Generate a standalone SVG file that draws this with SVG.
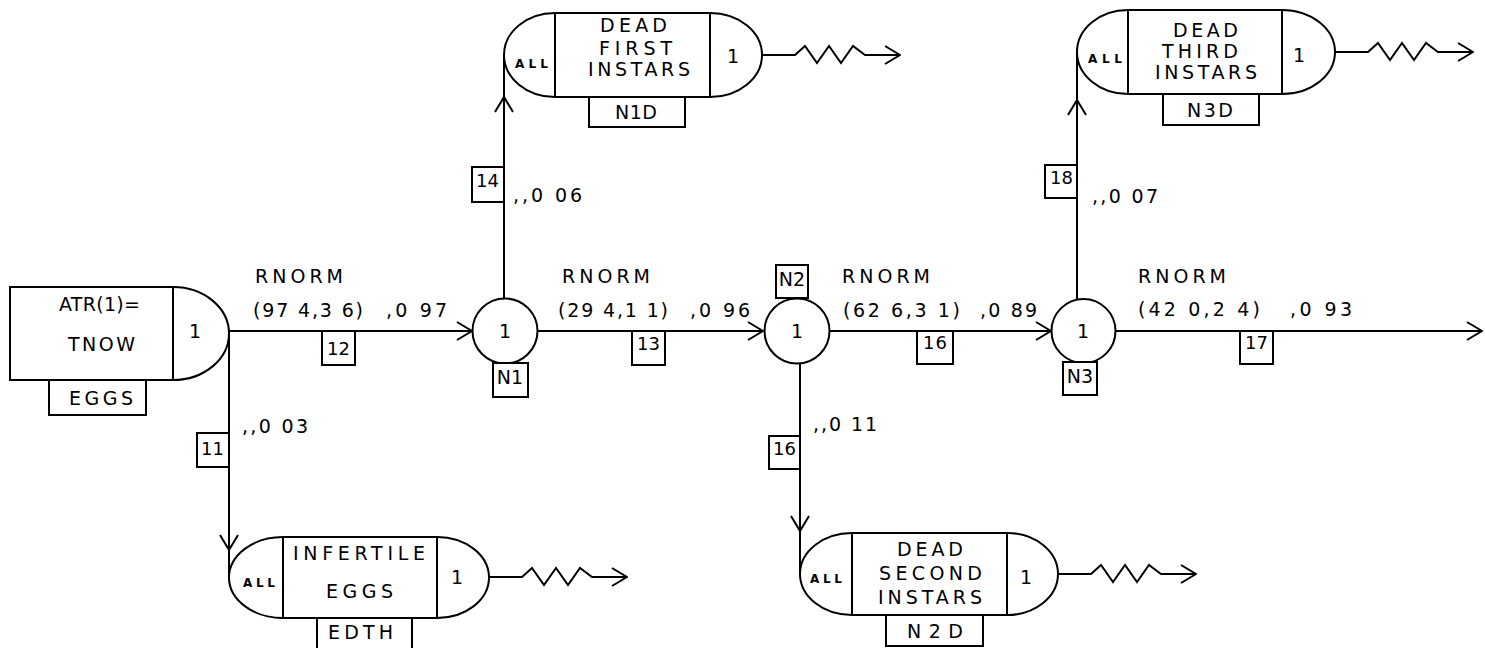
<svg xmlns="http://www.w3.org/2000/svg" width="1485" height="648" viewBox="0 0 1485 648">
<style>
.ln{stroke:#000;stroke-width:2;fill:none}
.sh{stroke:#000;stroke-width:2;fill:#fff}
.t{font-family:"DejaVu Sans","Liberation Sans",Arial,sans-serif;font-size:19px;fill:#000}
.b{font-size:18px}
.m{text-anchor:middle}
.s{font-size:12px;font-weight:bold}
</style>
<defs>
<marker id="ar" viewBox="-1 -1 17 20" refX="15" refY="9" markerWidth="17" markerHeight="20" markerUnits="userSpaceOnUse" orient="auto">
<path d="M0,0 L15,9 L0,18" fill="none" stroke="#000" stroke-width="2"/>
</marker>
</defs>
<rect width="1485" height="648" fill="#fff"/>

<g id="connectors">
<path class="ln" d="M229,331 H472" marker-end="url(#ar)"/>
<path class="ln" d="M538,331 H763" marker-end="url(#ar)"/>
<path class="ln" d="M830,331 H1051" marker-end="url(#ar)"/>
<path class="ln" d="M1116,331 H1482" marker-end="url(#ar)"/>
<path class="ln" d="M229,331 V550 V577" marker-mid="url(#ar)"/>
<path class="ln" d="M504,299 V97 V55" marker-mid="url(#ar)"/>
<path class="ln" d="M800,362 V531 V574" marker-mid="url(#ar)"/>
<path class="ln" d="M1077,299 V100 V52" marker-mid="url(#ar)"/>
<path class="ln" d="M762,55 h33 l10,-9 l12,17 l12,-17 l12,17 l12,-17 l12,9 h35" marker-end="url(#ar)"/>
<path class="ln" d="M489,577 h33 l10,-9 l12,17 l12,-17 l12,17 l12,-17 l12,9 h35" marker-end="url(#ar)"/>
<path class="ln" d="M1058,574 h33 l10,-9 l12,17 l12,-17 l12,17 l12,-17 l12,9 h35" marker-end="url(#ar)"/>
<path class="ln" d="M1335,52 h33 l10,-9 l12,17 l12,-17 l12,17 l12,-17 l12,9 h35" marker-end="url(#ar)"/>
<!-- activity number boxes -->
<path class="ln" d="M322,331 V365 H355 V331"/>
<path class="ln" d="M632,331 V365 H665 V331"/>
<path class="ln" d="M917,331 V364 H953 V331"/>
<path class="ln" d="M1240,331 V364 H1273 V331"/>
<path class="ln" d="M504,167 H472 V202 H504"/>
<path class="ln" d="M1077,165 H1045 V198 H1077"/>
<path class="ln" d="M229,433 H197 V467 H229"/>
<path class="ln" d="M800,436 H769 V469 H800"/>
<text class="t b" x="327" y="355" textLength="23">12</text>
<text class="t b" x="637" y="350" textLength="23">13</text>
<text class="t b" x="923" y="349" textLength="24">16</text>
<text class="t b" x="1245" y="349" textLength="23">17</text>
<text class="t b" x="476" y="187" textLength="23">14</text>
<text class="t b" x="1050" y="184" textLength="23">18</text>
<text class="t b" x="201" y="455" textLength="23">11</text>
<text class="t b" x="773" y="455" textLength="23">16</text>
<!-- labels -->
<text class="t" x="255" y="283" textLength="88">RNORM</text>
<text class="t" x="253" y="317" textLength="110">(97 4,3 6)</text>
<text class="t" x="386" y="317" textLength="61">,0 97</text>
<text class="t" x="562" y="283" textLength="88">RNORM</text>
<text class="t" x="558" y="317" textLength="110">(29 4,1 1)</text>
<text class="t" x="690" y="317" textLength="60">,0 96</text>
<text class="t" x="842" y="283" textLength="88">RNORM</text>
<text class="t" x="843" y="317" textLength="117">(62 6,3 1)</text>
<text class="t" x="980" y="317" textLength="57">,0 89</text>
<text class="t" x="1138" y="283" textLength="88">RNORM</text>
<text class="t" x="1138" y="316" textLength="122">(42 0,2 4)</text>
<text class="t" x="1290" y="316" textLength="62">,0 93</text>
<text class="t" x="513" y="202" textLength="69">,,0 06</text>
<text class="t" x="1092" y="203" textLength="66">,,0 07</text>
<text class="t" x="242" y="433" textLength="66">,,0 03</text>
<text class="t" x="813" y="431" textLength="64">,,0 11</text>
</g>

<g id="eggs">
<path class="sh" d="M10,287 H173 A56,46.5 0 0 1 173,380 H10 Z"/>
<line class="ln" x1="173" y1="287" x2="173" y2="380"/>
<rect class="sh" x="49" y="380" width="97" height="35"/>
<text class="t" x="59" y="311" textLength="81">ATR(1)=</text>
<text class="t" x="68" y="351" textLength="67">TNOW</text>
<text class="t m" x="195" y="338">1</text>
<text class="t" x="69" y="405" textLength="64">EGGS</text>
</g>

<g id="n1">
<circle class="sh" cx="505" cy="331" r="32.5"/>
<text class="t m" x="505" y="338">1</text>
<rect class="sh" x="493" y="363" width="35" height="34"/>
<text class="t m" x="510" y="384">N1</text>
</g>

<g id="n2">
<circle class="sh" cx="797" cy="331" r="32.5"/>
<text class="t m" x="797" y="338">1</text>
<rect class="sh" x="776" y="265" width="32" height="33"/>
<text class="t m" x="792" y="286">N2</text>
</g>

<g id="n3">
<circle class="sh" cx="1083.5" cy="331" r="32"/>
<text class="t m" x="1083" y="338">1</text>
<rect class="sh" x="1063" y="362" width="34" height="33"/>
<text class="t m" x="1080" y="383">N3</text>
</g>

<g id="edth">
<path class="sh" d="M283,537 H437 A52,40.5 0 0 1 437,618 H283 A54,40.5 0 0 1 283,537 Z"/>
<line class="ln" x1="283" y1="537" x2="283" y2="618"/>
<line class="ln" x1="437" y1="537" x2="437" y2="618"/>
<rect class="sh" x="317" y="618" width="95" height="36"/>
<text class="t s" x="243" y="587" textLength="32">ALL</text>
<text class="t" x="293" y="560" textLength="132">INFERTILE</text>
<text class="t" x="326" y="598" textLength="67">EGGS</text>
<text class="t m" x="457" y="584">1</text>
<text class="t" x="328" y="639" textLength="65">EDTH</text>
</g>

<g id="n1d">
<path class="sh" d="M555,13 H710 A52,42 0 0 1 710,97 H555 A51,42 0 0 1 555,13 Z"/>
<line class="ln" x1="555" y1="13" x2="555" y2="97"/>
<line class="ln" x1="710" y1="13" x2="710" y2="97"/>
<rect class="sh" x="589" y="97" width="96" height="30"/>
<text class="t s" x="515" y="68" textLength="33">ALL</text>
<text class="t" x="600" y="32" textLength="67">DEAD</text>
<text class="t" x="599" y="55" textLength="73">FIRST</text>
<text class="t" x="588" y="76" textLength="102">INSTARS</text>
<text class="t m" x="733" y="63">1</text>
<text class="t" x="615" y="119" textLength="42">N1D</text>
</g>

<g id="n2d">
<path class="sh" d="M852,533 H1007 A51,41 0 0 1 1007,615 H852 A52,41 0 0 1 852,533 Z"/>
<line class="ln" x1="852" y1="533" x2="852" y2="615"/>
<line class="ln" x1="1007" y1="533" x2="1007" y2="615"/>
<rect class="sh" x="886" y="615" width="97" height="31"/>
<text class="t s" x="810" y="583" textLength="32">ALL</text>
<text class="t" x="897" y="556" textLength="66">DEAD</text>
<text class="t" x="879" y="580" textLength="103">SECOND</text>
<text class="t" x="878" y="604" textLength="104">INSTARS</text>
<text class="t m" x="1026" y="584">1</text>
<text class="t" x="907" y="638" textLength="56">N2D</text>
</g>

<g id="n3d">
<path class="sh" d="M1128,10 H1282 A53,42 0 0 1 1282,94 H1128 A51,42 0 0 1 1128,10 Z"/>
<line class="ln" x1="1128" y1="10" x2="1128" y2="94"/>
<line class="ln" x1="1282" y1="10" x2="1282" y2="94"/>
<rect class="sh" x="1163" y="94" width="96" height="31"/>
<text class="t s" x="1088" y="63" textLength="34">ALL</text>
<text class="t" x="1173" y="37" textLength="65">DEAD</text>
<text class="t" x="1162" y="58" textLength="76">THIRD</text>
<text class="t" x="1155" y="79" textLength="102">INSTARS</text>
<text class="t m" x="1299" y="62">1</text>
<text class="t" x="1187" y="117" textLength="46">N3D</text>
</g>
</svg>
